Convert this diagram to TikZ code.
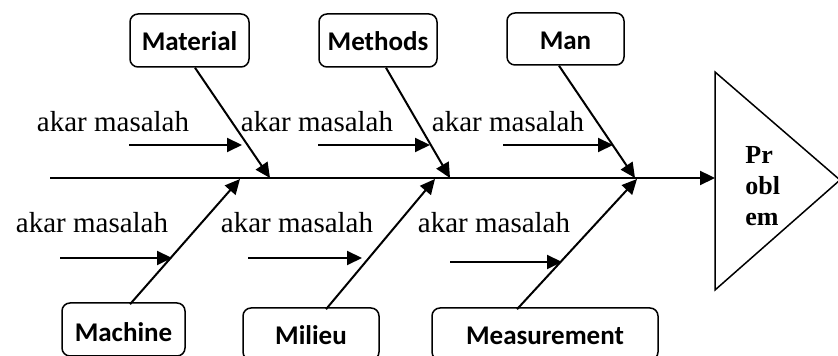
\documentclass[tikz,border=0pt]{standalone}
\usepackage{fontspec}
\setmainfont{Liberation Serif}
\newfontfamily\boxfont{Carlito}
\usetikzlibrary{arrows.meta}
\tikzset{
  cause/.style={draw, line width=0.75pt, rounded corners=4pt, inner sep=0pt,
    text height=10.5pt, text depth=0pt,
    font=\boxfont\bfseries\fontsize{13.5}{16}\selectfont},
  bone/.style={line width=1pt, -{Triangle[length=7.5pt,width=7pt]}},
  spine/.style={line width=1.1pt, -{Triangle[length=7.5pt,width=7pt]}},
  root/.style={inner sep=0pt, font=\fontsize{14.5}{17}\selectfont},
}
\begin{document}
\begin{tikzpicture}[x=0.5pt,y=-0.5pt]
    \useasboundingbox (0,0) rectangle (838,356);

    \node [cause, minimum width=59.5pt, minimum height=26.5pt] (mat) at (189.5,40.5) {Material};
    \node [cause, minimum width=59pt, minimum height=26.5pt] (met) at (378,40.5) {Methods};
    \node [cause, minimum width=58.5pt, minimum height=26pt] (man) at (565.5,39) {Man};
    \node [cause, minimum width=61.5pt, minimum height=26.5pt, text height=12pt] (mac) at (123.5,329.5) {Machine};
    \node [cause, minimum width=68pt, minimum height=26pt, text height=11pt] (mil) at (311,334) {Milieu};
    \node [cause, minimum width=113pt, minimum height=26pt, text height=11pt] (mea) at (545,334) {Measurement};

    \coordinate (tail) at (50,178);
    \coordinate (head) at (715,178);
    \coordinate (tmat) at (270,178);
    \coordinate (tmet) at (450,178);
    \coordinate (tman) at (635,178);
    \coordinate (tmac) at (240,179);
    \coordinate (tmil) at (435,179);
    \coordinate (tmea) at (637,179);

    \draw [line width=0.75pt] (715,72) -- (840,180) -- (715,290) -- cycle;
    \node [anchor=west, align=left, inner sep=0pt,
      font=\bfseries\fontsize{13}{15.5}\selectfont] (prob) at (745,186) {Pr\\obl\\em};

    \draw [spine] (tail) -- (head);

    \draw [bone] ([xshift=2.75pt]mat.south) -- (tmat);
    \draw [bone] ([xshift=4pt]met.south) -- (tmet);
    \draw [bone] ([xshift=-3.25pt]man.south) -- (tman);
    \draw [bone] ([xshift=3.25pt,yshift=-1pt]mac.north) -- (tmac);
    \draw [bone] ([xshift=7.5pt,yshift=-1pt]mil.north) -- (tmil);
    \draw [bone] ([xshift=-14pt,yshift=-1pt]mea.north) -- (tmea);

    \node [root] (r1) at (113,122) {akar masalah};
    \node [root] (r2) at (317,122) {akar masalah};
    \node [root] (r3) at (508,122) {akar masalah};
    \node [root] (r4) at (92,223) {akar masalah};
    \node [root] (r5) at (297,223) {akar masalah};
    \node [root] (r6) at (494,223) {akar masalah};

    \coordinate (s1) at (129,145);  \coordinate (e1) at (242,145);
    \coordinate (s2) at (318,145);  \coordinate (e2) at (430,145);
    \coordinate (s3) at (503,145);  \coordinate (e3) at (613,145);
    \coordinate (s4) at (60,258);   \coordinate (e4) at (172,258);
    \coordinate (s5) at (248,258);  \coordinate (e5) at (362,258);
    \coordinate (s6) at (450,262);  \coordinate (e6) at (562,262);
    \foreach \i in {1,...,6}
      \draw [bone] (s\i) -- (e\i);
  \end{tikzpicture}
\end{document}
